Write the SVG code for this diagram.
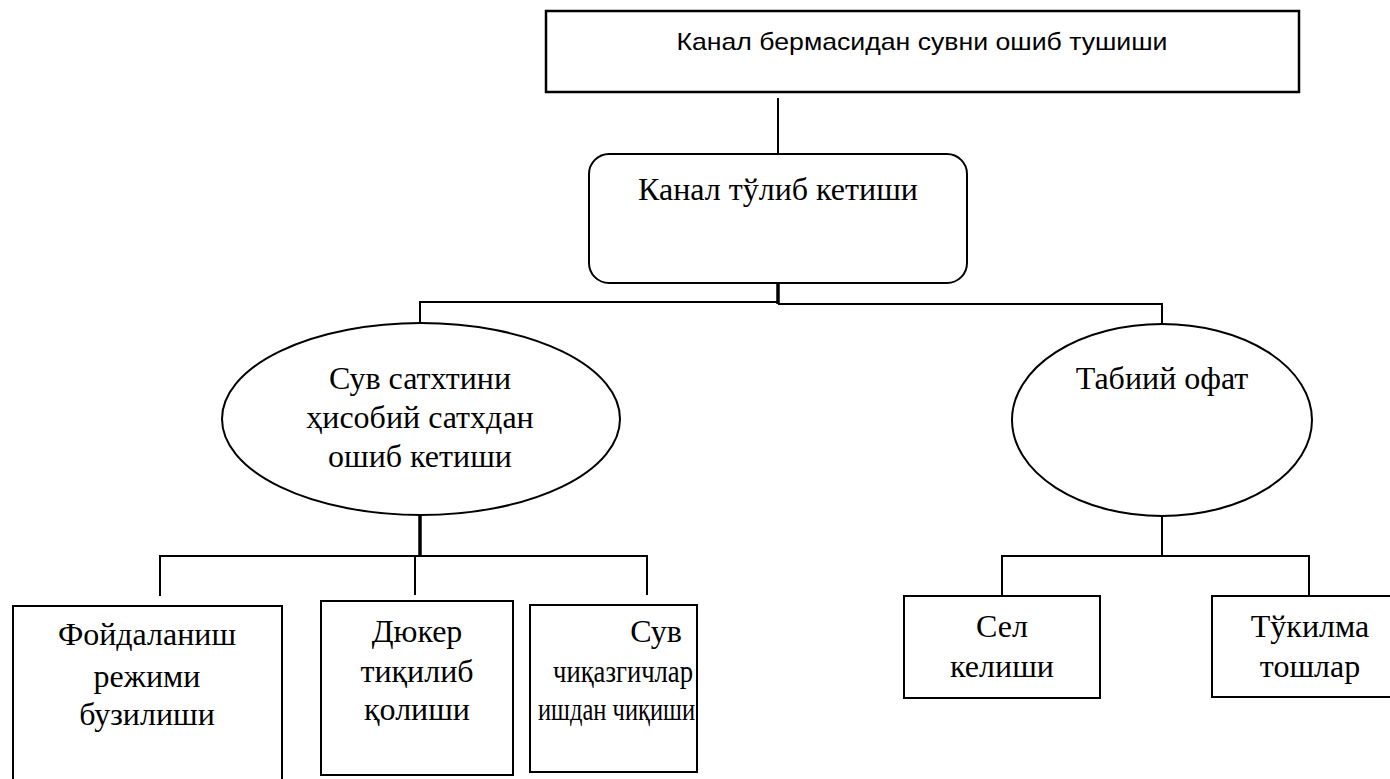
<svg xmlns="http://www.w3.org/2000/svg" width="1390" height="779" viewBox="0 0 1390 779">
<style>
.n{fill:#fff;stroke:#000;stroke-width:2}
.t{font-family:"Liberation Serif","Times New Roman",serif;font-size:32px;fill:#000;text-anchor:middle}
.l{text-anchor:start}
.s{font-family:"Liberation Sans",Arial,sans-serif;font-size:24px;fill:#000;text-anchor:middle}
.c{fill:none;stroke:#000;stroke-width:2}
.k{fill:none;stroke:#000;stroke-width:3.5}
</style>
<rect width="1390" height="779" fill="#fff"/>
<g id="connectors">
<line class="c" x1="778" y1="98" x2="778" y2="154"/>
<line class="k" x1="778" y1="283" x2="778" y2="304"/>
<polyline class="c" points="778,302 420,302 420,323"/>
<polyline class="c" points="778,304 1162,304 1162,324"/>
<line class="k" x1="420" y1="515" x2="420" y2="557"/>
<polyline class="c" points="160,596 160,556 647,556 647,595"/>
<line class="c" x1="415" y1="556" x2="415" y2="595"/>
<line class="c" x1="1162" y1="516" x2="1162" y2="556"/>
<polyline class="c" points="1002,596 1002,556 1309,556 1309,596"/>
</g>
<g id="top">
<rect class="n" x="546" y="11" width="753" height="81" style="stroke-width:2.5"/>
<text class="s" x="922" y="50" textLength="491" lengthAdjust="spacingAndGlyphs">Канал бермасидан сувни ошиб тушиши</text>
</g>
<g id="overflow">
<rect class="n" x="589" y="154" width="378" height="129" rx="20" ry="20"/>
<text class="t" x="778" y="200">Канал тўлиб кетиши</text>
</g>
<g id="level">
<ellipse class="n" cx="421" cy="419" rx="199" ry="96"/>
<text class="t" x="420" y="389">Сув сатхтини</text>
<text class="t" x="420" y="428">ҳисобий сатхдан</text>
<text class="t" x="420" y="467">ошиб кетиши</text>
</g>
<g id="disaster">
<ellipse class="n" cx="1162" cy="420" rx="150" ry="96"/>
<text class="t" x="1162" y="389">Табиий офат</text>
</g>
<g id="mode">
<rect class="n" x="13" y="606" width="269" height="190"/>
<text class="t" x="147" y="645">Фойдаланиш</text>
<text class="t" x="147" y="687">режими</text>
<text class="t" x="147" y="725">бузилиши</text>
</g>
<g id="duker">
<rect class="n" x="321" y="601" width="192" height="174"/>
<text class="t" x="417" y="642">Дюкер</text>
<text class="t" x="417" y="682">тиқилиб</text>
<text class="t" x="417" y="720">қолиши</text>
</g>
<g id="outlets">
<rect class="n" x="530" y="605" width="167" height="167"/>
<text class="t" x="656" y="642">Сув</text>
<text class="t l" x="553" y="682" textLength="140" lengthAdjust="spacingAndGlyphs">чиқазгичлар</text>
<text class="t l" x="538" y="720" textLength="157" lengthAdjust="spacingAndGlyphs">ишдан чиқиши</text>
</g>
<g id="mudflow">
<rect class="n" x="904" y="596" width="196" height="102"/>
<text class="t" x="1002" y="637">Сел</text>
<text class="t" x="1002" y="677">келиши</text>
</g>
<g id="rockfall">
<rect class="n" x="1212" y="596" width="190" height="101"/>
<text class="t" x="1310" y="637">Тўкилма</text>
<text class="t" x="1310" y="677">тошлар</text>
</g>
</svg>
